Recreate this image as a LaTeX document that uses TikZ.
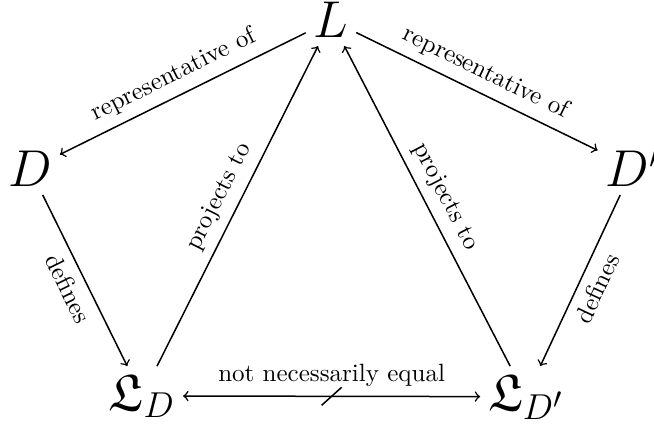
\documentclass[tikz,border=0pt]{standalone}
\usepackage{amssymb}
\begin{document}
\begin{tikzpicture}[x=0.4pt,y=-0.4pt,
  obj/.style={font=\huge, inner sep=3pt, anchor=base},
  arr/.style={->, line width=0.6pt},
  lbl/.style={font=\normalsize, sloped, inner sep=3.5pt}]
\useasboundingbox (0,0) rectangle (654,426);
\node[obj] (L)   at (331,38)  {$L$};
\node[obj] (D)   at (30,187)  {$D$};
\node[obj] (Dp)  at (633,187) {$D'$};
\node[obj] (LD)  at (142,410) {$\mathfrak{L}_D$};
\node[obj] (LDp) at (526,410) {$\mathfrak{L}_{D'}$};
\draw[arr] (L) -- node[lbl, above] {representative of} (D);
\draw[arr] (L) -- node[lbl, above] {representative of} (Dp);
\draw[arr] (D) -- node[lbl, below] {defines} (LD);
\draw[arr] (Dp) -- node[lbl, below] {defines} (LDp);
\draw[arr] (LD) -- node[lbl, above] {projects to} (L);
\draw[arr] (LDp) -- node[lbl, above] {projects to} (L);
\draw[arr, <->] (LD) -- node[lbl, above] {not necessarily equal} coordinate[midway] (mid) (LDp);
\draw[line width=0.6pt] ([shift={(-10,9)}]mid) -- ([shift={(10,-9)}]mid);
\end{tikzpicture}
\end{document}
